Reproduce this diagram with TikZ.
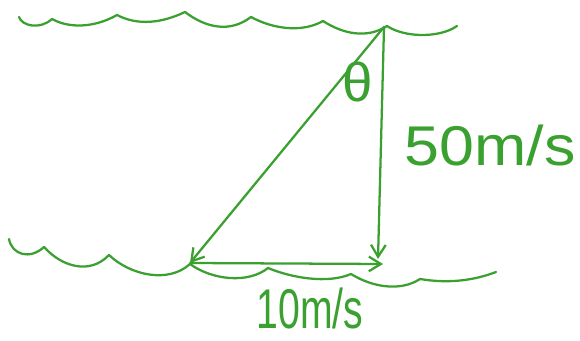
\documentclass[tikz,border=0pt]{standalone}
\usepackage{fontspec}
\setmainfont{Liberation Sans}
\usetikzlibrary{arrows.meta}
\definecolor{penGreen}{RGB}{58,160,48}

\begin{document}
\begin{tikzpicture}[x=0.75pt,y=0.75pt,yscale=-1,xscale=1,
  pen/.style={draw=penGreen, line width=1.7pt, line cap=round, line join=round},
  vec/.style={pen, -{Straight Barb[length=9pt,width=11pt,line width=1.7pt]}},
  hand/.style={text=penGreen, inner sep=0pt}]
\useasboundingbox (0,0) rectangle (580,341);

%Curve Lines: far bank
\draw [pen] (19,17) .. controls (22,26) and (40,30) .. (52,19) .. controls (72,30) and (98,26) .. (117,15) .. controls (138,26) and (162,23) .. (185,12) .. controls (206,28) and (230,33) .. (251,17) .. controls (273,29) and (302,33) .. (323,21) .. controls (343,34) and (367,39) .. (387,26) .. controls (405,38) and (440,38) .. (457,26) ;
%Curve Lines: near bank
\draw [pen] (9,239) .. controls (12,255) and (30,260) .. (44,247) .. controls (62,267) and (90,275) .. (109,255) .. controls (130,275) and (168,284) .. (190,264) .. controls (212,280) and (248,284) .. (268,268) .. controls (292,278) and (328,284) .. (351,274) .. controls (372,287) and (400,292) .. (420,279) .. controls (450,284) and (475,280) .. (496,272) ;

%Vertices
\coordinate (top) at (384,27);
\coordinate (bl) at (190,263);
\coordinate (vend) at (378,259);
\coordinate (hend) at (383,264);

%Straight Lines: velocities
\draw [vec] (top) -- (bl);
\draw [vec] (top) -- (vend);
\draw [vec] (bl) -- (hend);

% Text Node
\node [hand, font=\fontsize{41}{46}\selectfont] (theta) at (358,82) {θ};
% Text Node
\node [hand, font=\fontsize{42}{48}\selectfont] (vlabel) at (490,145) {\scalebox{1.12}[1]{50m/s}};
% Text Node
\node [hand, font=\fontsize{42}{48}\selectfont] (hlabel) at (310,308) {\scalebox{0.7}[1]{10m/s}};

\end{tikzpicture}
\end{document}
